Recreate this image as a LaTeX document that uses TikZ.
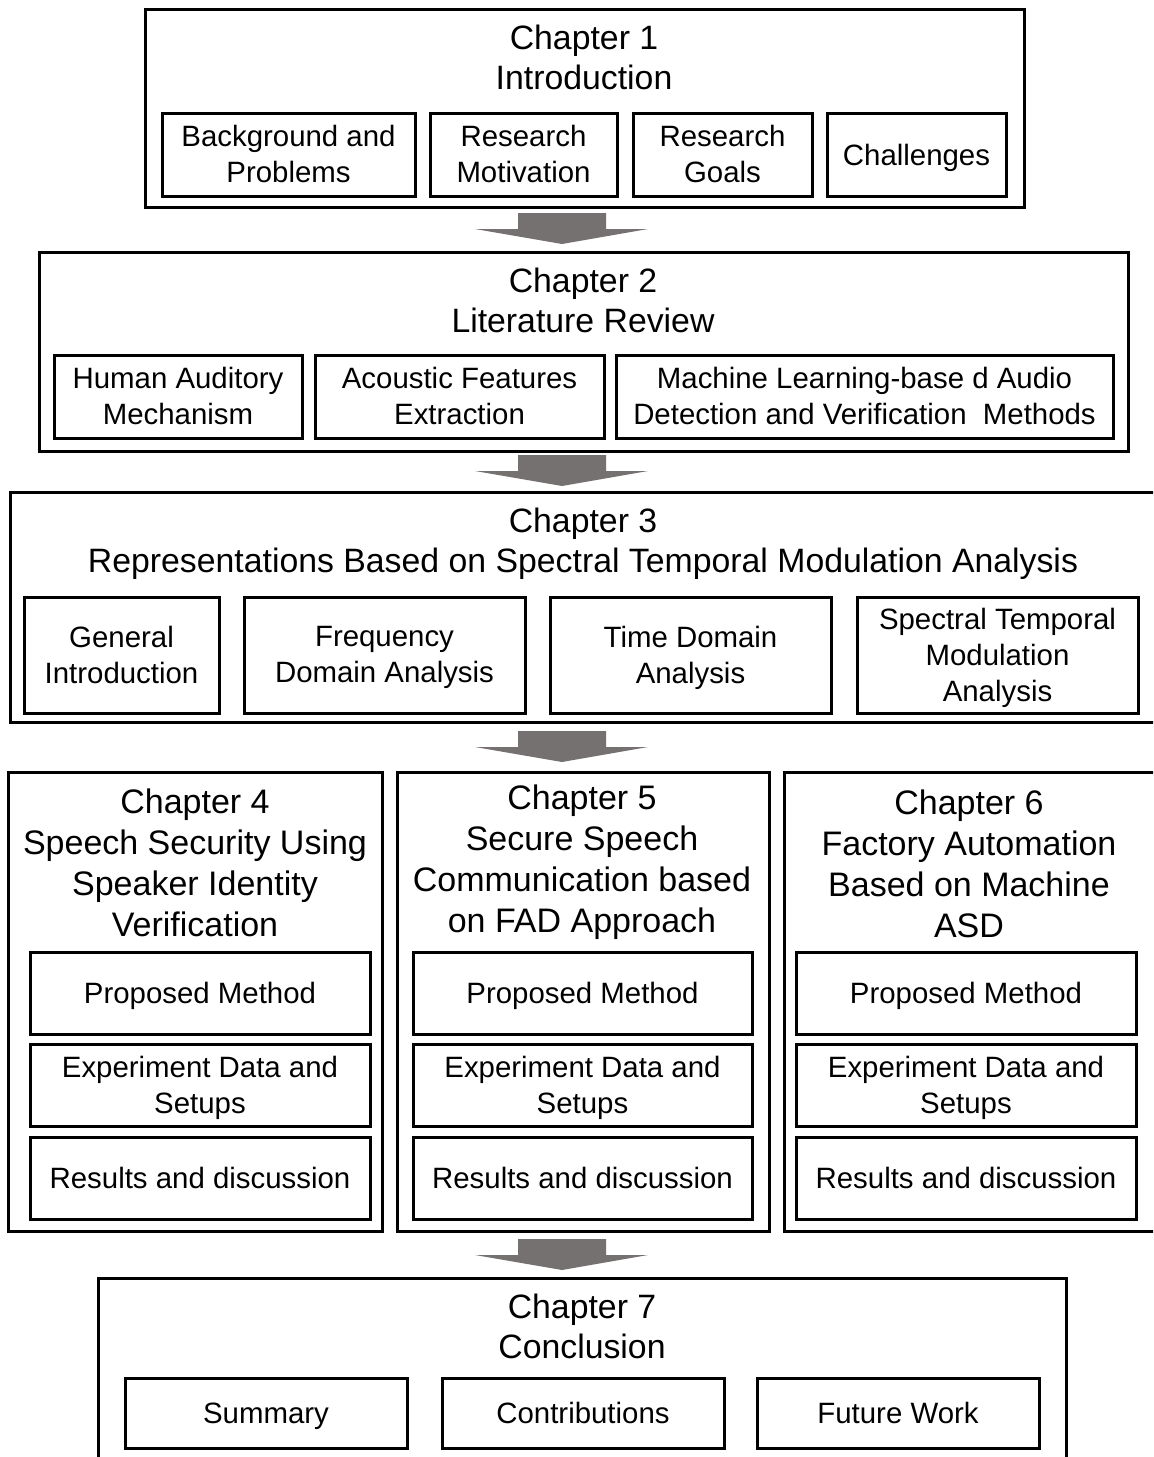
\documentclass[tikz,border=0pt]{standalone}
\usepackage{fontspec}
\setmainfont{Liberation Sans}
\newcommand\ttlfont{\fontsize{16.9}{20}\selectfont}
\newcommand\bigttlfont{\fontsize{17}{20.4}\selectfont}
\newcommand\subfont{\fontsize{14.7}{18}\selectfont}
% strut whose height minus depth equals the cap height, so text centres on its capitals
\newcommand\capstrut{\rule[-0.25em]{0pt}{1.216em}}
% framed rectangle from its two corners (pixel grid): name, x1, y1, x2, y2
\newcommand\framenode[5]{%
  \node[frame, minimum width={(#4-#2)*0.5pt}, minimum height={(#5-#3)*0.5pt}]
    (#1) at ({(#2+#4)/2},{(#3+#5)/2}) {};}
% framed box with its label centred inside: text style, name, x1, y1, x2, y2, text
\newcommand\rectnode[7]{%
  \framenode{#2}{#3}{#4}{#5}{#6}
  \node[subtext, #1] (#2-t) at (#2.center) {#7};}
\definecolor{arrowgray}{RGB}{118,113,113}
\tikzset{
  struts/.style={execute at begin node=\capstrut, execute at end node=\capstrut},
  frame/.style={draw, line width=1.5pt, inner sep=0pt, outer sep=0pt},
  subtext/.style={font=\subfont, align=center, inner sep=0pt, struts},
  one/.style={},
  multi/.style={yshift=-1.75pt},
  title/.style={font=\ttlfont, align=center, inner sep=0pt, struts, yshift=-2pt},
  bigtitle/.style={font=\bigttlfont, align=center, inner sep=0pt, struts, yshift=-2pt},
  blockarrow/.style={fill=arrowgray, draw=none}
}
\begin{document}
\begin{tikzpicture}[x=0.5pt, y=-0.5pt]
\useasboundingbox (0,0) rectangle (1153,1457);
\clip (0,0) rectangle (1153,1457);
\fill[white] (0,0) rectangle (1153,1457);

% Chapter 1
\framenode{c1}{145}{9}{1024}{207}
\node[title] (t1) at (584,57) {Chapter 1\\Introduction};
\rectnode{multi}{c1a}{162}{113}{415}{196}{Background and\\Problems}
\rectnode{multi}{c1b}{430}{113}{617}{196}{Research\\Motivation}
\rectnode{multi}{c1c}{633}{113}{812}{196}{Research\\Goals}
\rectnode{one}{c1d}{827}{113}{1006}{196}{Challenges}

% Chapter 2
\framenode{c2}{39}{252}{1128}{451}
\node[title] (t2) at (583,300) {Chapter 2\\Literature Review};
\rectnode{multi}{c2a}{54}{355}{302}{438}{Human Auditory\\Mechanism}
\rectnode{multi}{c2b}{315}{355}{604}{438}{Acoustic Features\\Extraction}
\rectnode{multi}{c2c}{616}{355}{1113}{438}{Machine Learning-base d Audio\\Detection and Verification\ \ Methods}

% Chapter 3
\framenode{c3}{10}{492}{1170}{722}
\node[title] (t3) at (583,540) {Chapter 3\\Representations Based on Spectral Temporal Modulation Analysis};
\rectnode{multi}{c3a}{24}{597}{219}{713}{General\\Introduction}
\rectnode{multi}{c3b}{244}{597}{525}{713}{Frequency\\Domain Analysis}
\rectnode{multi}{c3c}{550}{597}{831}{713}{Time Domain\\Analysis}
\rectnode{multi}{c3d}{857}{597}{1138}{713}{Spectral Temporal\\Modulation\\Analysis}

% Chapters 4, 5 and 6
\framenode{c4}{8}{772}{382}{1231}
\node[bigtitle] (t4) at (195,863) {Chapter 4\\Speech Security Using\\Speaker Identity\\Verification};
\rectnode{one}{c4a}{30}{952}{370}{1034}{Proposed Method}
\rectnode{multi}{c4b}{30}{1044}{370}{1126}{Experiment Data and\\Setups}
\rectnode{one}{c4c}{30}{1137}{370}{1219}{Results and discussion}

\framenode{c5}{397}{772}{769}{1231}
\node[bigtitle] (t5) at (582,859) {Chapter 5\\Secure Speech\\Communication based\\on FAD Approach};
\rectnode{one}{c5a}{413}{952}{752}{1034}{Proposed Method}
\rectnode{multi}{c5b}{413}{1044}{752}{1126}{Experiment Data and\\Setups}
\rectnode{one}{c5c}{413}{1137}{752}{1219}{Results and discussion}

\framenode{c6}{784}{772}{1170}{1231}
\node[bigtitle] (t6) at (969,864) {Chapter 6\\Factory Automation\\Based on Machine\\ASD};
\rectnode{one}{c6a}{796}{952}{1136}{1034}{Proposed Method}
\rectnode{multi}{c6b}{796}{1044}{1136}{1126}{Experiment Data and\\Setups}
\rectnode{one}{c6c}{796}{1137}{1136}{1219}{Results and discussion}

% Chapter 7
\framenode{c7}{98}{1278}{1066}{1475}
\node[title] (t7) at (582,1326) {Chapter 7\\Conclusion};
\rectnode{one}{c7a}{125}{1378}{407}{1448}{Summary}
\rectnode{one}{c7b}{442}{1378}{724}{1448}{Contributions}
\rectnode{one}{c7c}{757}{1378}{1039}{1448}{Future Work}

% block arrows between the chapters
\coordinate (a1) at (562,213);
\coordinate (a2) at (562,455);
\coordinate (a3) at (562,731);
\coordinate (a4) at (562,1239);
\foreach \a in {a1,a2,a3,a4}{
  \fill[blockarrow] (\a) ++(-44,0) -- ++(88,0) -- ++(0,16) -- ++(42,0)
    -- ++(-86,15) -- ++(-87,-15) -- ++(43,0) -- cycle;
}
\end{tikzpicture}
\end{document}
